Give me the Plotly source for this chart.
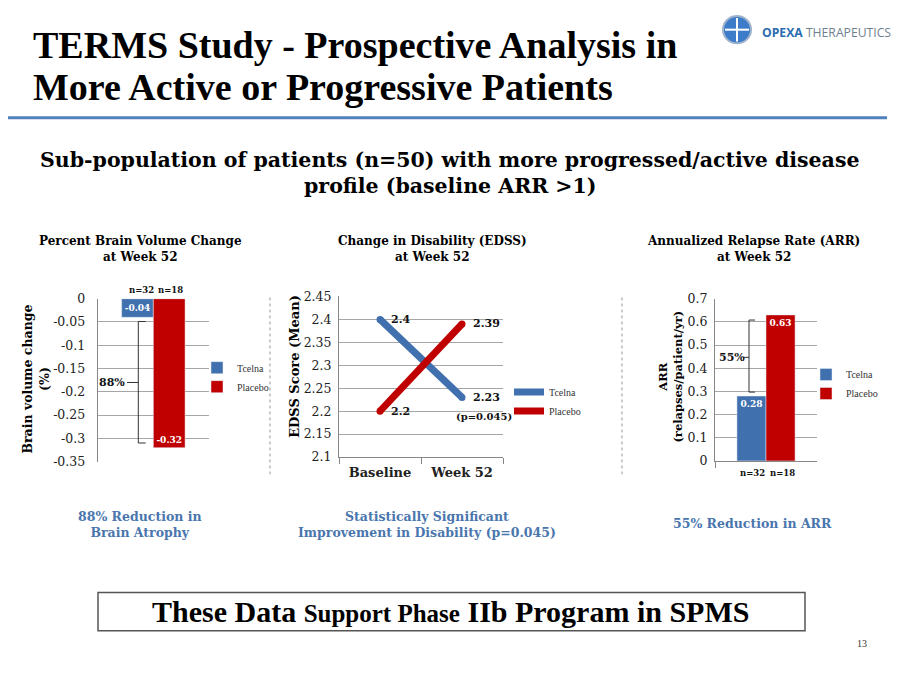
import plotly.graph_objects as go

# ---------------- data ----------------
groups = ["Tcelna", "Placebo"]
bar_cat = ["Week 52"]
brain_vol = [-0.04, -0.32]
brain_n = ["n=32", "n=18"]
brain_ticks = [0, -0.05, -0.1, -0.15, -0.2, -0.25, -0.3, -0.35]
brain_ticktext = ["0", "-0.05", "-0.1", "-0.15", "-0.2", "-0.25", "-0.3", "-0.35"]

edss_x = ["Baseline", "Week 52"]
edss_tcelna = [2.4, 2.23]
edss_placebo = [2.2, 2.39]
edss_ticks = [2.1, 2.15, 2.2, 2.25, 2.3, 2.35, 2.4, 2.45]
edss_ticktext = ["2.1", "2.15", "2.2", "2.25", "2.3", "2.35", "2.4", "2.45"]

arr_vals = [0.28, 0.63]
arr_n = ["n=32", "n=18"]
arr_ticks = [0, 0.1, 0.2, 0.3, 0.4, 0.5, 0.6, 0.7]
arr_ticktext = ["0", "0.1", "0.2", "0.3", "0.4", "0.5", "0.6", "0.7"]

BLUE = "#4170AE"
RED = "#C00000"
TXT_BLUE = "#4A76AE"
GRID = "#A6A6A6"
AXIS = "#868686"
SERIF = "DejaVu Serif"
TIMES = "Liberation Serif"

# the page body has an 8px margin: the figure is placed at (8, 8)
OFF = 8
W, H = 900 - 2 * OFF, 675 - 2 * OFF
def px(x): return (x - OFF) / W
def py(y): return 1 - (y - OFF) / H

fig = go.Figure()

# ---- chart 1: brain volume ----
colors = [BLUE, RED]
anchors = ["middle", "end"]
for g, v, c, a in zip(groups, brain_vol, colors, anchors):
    fig.add_trace(go.Bar(x=bar_cat, y=[v], name=g, marker_color=c,
                         text=[f"{v:g}"], textposition="inside",
                         insidetextanchor=a, constraintext="none",
                         textfont=dict(family=SERIF, size=9, color="white", weight="bold"),
                         xaxis="x", yaxis="y", legend="legend"))

# ---- chart 2: EDSS ----
for g, vals, c in [("Tcelna", edss_tcelna, BLUE), ("Placebo", edss_placebo, RED)]:
    fig.add_trace(go.Scatter(x=edss_x, y=vals, name=g, mode="lines",
                             line=dict(color=c, width=7),
                             xaxis="x2", yaxis="y2", legend="legend2"))
    fig.add_trace(go.Scatter(x=edss_x, y=vals, mode="markers", showlegend=False,
                             marker=dict(color=c, size=7), hoverinfo="skip",
                             xaxis="x2", yaxis="y2"))

# ---- chart 3: ARR ----
for g, v, c in zip(groups, arr_vals, colors):
    fig.add_trace(go.Bar(x=bar_cat, y=[v], name=g, marker_color=c,
                         text=[f"{v:g}"], textposition="inside",
                         insidetextanchor="end", constraintext="none",
                         textfont=dict(family=SERIF, size=9, color="white", weight="bold"),
                         xaxis="x3", yaxis="y3", legend="legend3"))

tickf = dict(family=SERIF, size=12.5, color="#222")
axis_common = dict(showgrid=True, gridcolor=GRID, gridwidth=1, showline=True,
                   linecolor=AXIS, linewidth=1, zeroline=False, tickfont=tickf, ticks="")
legfont = dict(family=TIMES, size=10, color="#333")

fig.update_layout(
    width=W, height=H, margin=dict(l=0, r=0, t=0, b=0),
    paper_bgcolor="white", plot_bgcolor="white",
    barmode="group", bargap=0.43, showlegend=True,
    font=dict(family=SERIF, color="#222"),
    xaxis=dict(domain=[px(97.7), px(209)], anchor="y", showticklabels=False,
               showgrid=False, showline=False, zeroline=False, fixedrange=True),
    yaxis=dict(domain=[py(464), py(297.3)], anchor="x", range=[-0.35, 0],
               tickvals=brain_ticks, ticktext=brain_ticktext, ticklabelstandoff=9, **axis_common),
    xaxis2=dict(domain=[px(339), px(503)], anchor="y2", range=[-0.5, 1.5],
                showgrid=False, showline=True, linecolor=AXIS, ticks="outside",
                tickson="boundaries", ticklen=6, tickcolor=AXIS, zeroline=False,
                ticklabelstandoff=3,
                tickfont=dict(family=SERIF, size=13, color="#222", weight="bold")),
    yaxis2=dict(domain=[py(459.3), py(295)], anchor="x2", range=[2.1, 2.45],
                tickvals=edss_ticks, ticktext=edss_ticktext, ticklabelstandoff=4, **axis_common),
    xaxis3=dict(domain=[px(715), px(817)], anchor="y3", showticklabels=False,
                showgrid=False, showline=True, linecolor=AXIS, ticks="outside",
                tickson="boundaries", ticklen=6, tickcolor=AXIS, zeroline=False),
    yaxis3=dict(domain=[py(463.3), py(297.3)], anchor="x3", range=[0, 0.7],
                tickvals=arr_ticks, ticktext=arr_ticktext, ticklabelstandoff=4, **axis_common),
    legend=dict(x=px(197), y=py(353), xanchor="left", yanchor="top",
                font=legfont, bgcolor="rgba(0,0,0,0)", itemwidth=30),
    legend2=dict(x=px(509), y=py(378), xanchor="left", yanchor="top",
                 font=legfont, bgcolor="rgba(0,0,0,0)", itemwidth=30),
    legend3=dict(x=px(806), y=py(360), xanchor="left", yanchor="top",
                 font=legfont, bgcolor="rgba(0,0,0,0)", itemwidth=30),
)

ann = []
def A(text, x, y, size, family=SERIF, color="#111", bold=True, xanchor="center",
      yanchor="middle", **kw):
    d = dict(text=text, x=x, y=y, xref=kw.pop("xref", "paper"), yref=kw.pop("yref", "paper"),
             showarrow=False, xanchor=xanchor, yanchor=yanchor,
             font=dict(family=family, size=size, color=color, weight="bold" if bold else "normal"))
    d.update(kw)
    ann.append(d)

# headline
A("TERMS Study - Prospective Analysis in", px(31), py(38), 38, family=TIMES, color="#000", xanchor="left")
A("More Active or Progressive Patients", px(31), py(81), 38, family=TIMES, color="#000", xanchor="left")
# logo text
A("<span style='color:#2B6CB0'><b>OPEXA</b></span> <span style='color:#6E7F90'>THERAPEUTICS</span>",
  px(760), py(25), 12.2, family="Open Sans", bold=False, xanchor="left")
# subtitle
A("Sub-population of patients (n=50) with more progressed/active disease", px(450), py(155), 20.5, color="#000")
A("profile (baseline ARR &gt;1)", px(450), py(182), 20.5, color="#000")
# chart titles
A("Percent Brain Volume Change<br>at Week 52", px(140), py(246), 12, color="#000")
A("Change in Disability (EDSS)<br>at Week 52", px(432), py(246), 12, color="#000")
A("Annualized Relapse Rate (ARR)<br>at Week 52", px(753), py(246), 12, color="#000")
# axis titles
A("Brain volume change<br>(%)", px(36), py(380), 12.5, color="#000", textangle=-90)
A("EDSS Score (Mean)", px(295), py(367), 13, color="#000", textangle=-90)
A("ARR<br>(relapses/patient/yr)", px(671), py(377), 11.5, color="#000", textangle=-90)
# n labels
for t, x in zip(brain_n, [141, 170]):
    A(t, px(x), py(288), 8.5, color="#111")
for t, x in zip(arr_n, [752, 782]):
    A(t, px(x), py(476), 8.5, color="#111")
# EDSS point labels
for vals in (edss_tcelna, edss_placebo):
    for cx, v in zip(edss_x, vals):
        A(f"{v:g}", cx, v, 11, color="#111", xanchor="left", xref="x2", yref="y2", xshift=9)
A("(p=0.045)", edss_x[1], edss_tcelna[1], 10, color="#111", xref="x2", yref="y2",
  xshift=22, yshift=-19)
# bracket labels
A("88%", px(112), -0.18, 11, color="#111", yref="y")
A("55%", px(732), 0.447, 11, color="#111", yref="y3")
# bottom blue texts
A("88% Reduction in<br>Brain Atrophy", px(140), py(528), 12.5, color=TXT_BLUE)
A("Statistically Significant<br>Improvement in Disability (p=0.045)", px(427), py(528), 12.5, color=TXT_BLUE)
A("55% Reduction in ARR", px(752), py(527), 12.5, color=TXT_BLUE)
# box text
A("These Data <span style='font-size:25px'>Support Phase</span> IIb Program in SPMS",
  px(450), py(617), 30, family=TIMES, color="#000")
# page number
A("13", px(862), py(650), 10, family=TIMES, color="#333", bold=False)
fig.update_layout(annotations=ann)

shapes = []
# blue rule under headline
shapes.append(dict(type="line", xref="paper", yref="paper", x0=px(8), x1=px(887),
                   y0=py(112), y1=py(112), line=dict(color="#4F81BD", width=3)))
# logo
shapes.append(dict(type="circle", xref="paper", yref="paper", x0=px(723), x1=px(751),
                   y0=py(36), y1=py(8), fillcolor="#3D7CC9", line=dict(color="#9FB4CC", width=2)))
shapes.append(dict(type="line", xref="paper", yref="paper", x0=px(737), x1=px(737),
                   y0=py(10), y1=py(34), line=dict(color="white", width=2)))
shapes.append(dict(type="line", xref="paper", yref="paper", x0=px(725), x1=px(749),
                   y0=py(22), y1=py(22), line=dict(color="white", width=2)))
# dotted separators
for x in (270, 622):
    shapes.append(dict(type="line", xref="paper", yref="paper", x0=px(x), x1=px(x),
                       y0=py(296), y1=py(477), line=dict(color="#999", width=1, dash="dot")))
# bracket chart 1
bx, bs = px(138.3), px(145.7)
shapes.append(dict(type="path", xref="paper", yref="y",
                   path=f"M {bs},-0.049 L {bx},-0.049 L {bx},-0.31 L {bs},-0.31",
                   line=dict(color="#333", width=1)))
shapes.append(dict(type="line", xref="paper", yref="y", x0=px(127), x1=bx,
                   y0=-0.18, y1=-0.18, line=dict(color="#333", width=1)))
# bracket chart 3
bx3, bs3 = px(749), px(755)
shapes.append(dict(type="path", xref="paper", yref="y3",
                   path=f"M {bs3},0.608 L {bx3},0.608 L {bx3},0.297 L {bs3},0.297",
                   line=dict(color="#333", width=1)))
shapes.append(dict(type="line", xref="paper", yref="y3", x0=px(743), x1=bx3,
                   y0=0.447, y1=0.447, line=dict(color="#333", width=1)))
# bottom box
shapes.append(dict(type="rect", xref="paper", yref="paper", x0=px(98), x1=px(805),
                   y0=py(637), y1=py(598), line=dict(color="#555", width=1.5)))
fig.update_layout(shapes=shapes)

fig.write_html("out.html")
